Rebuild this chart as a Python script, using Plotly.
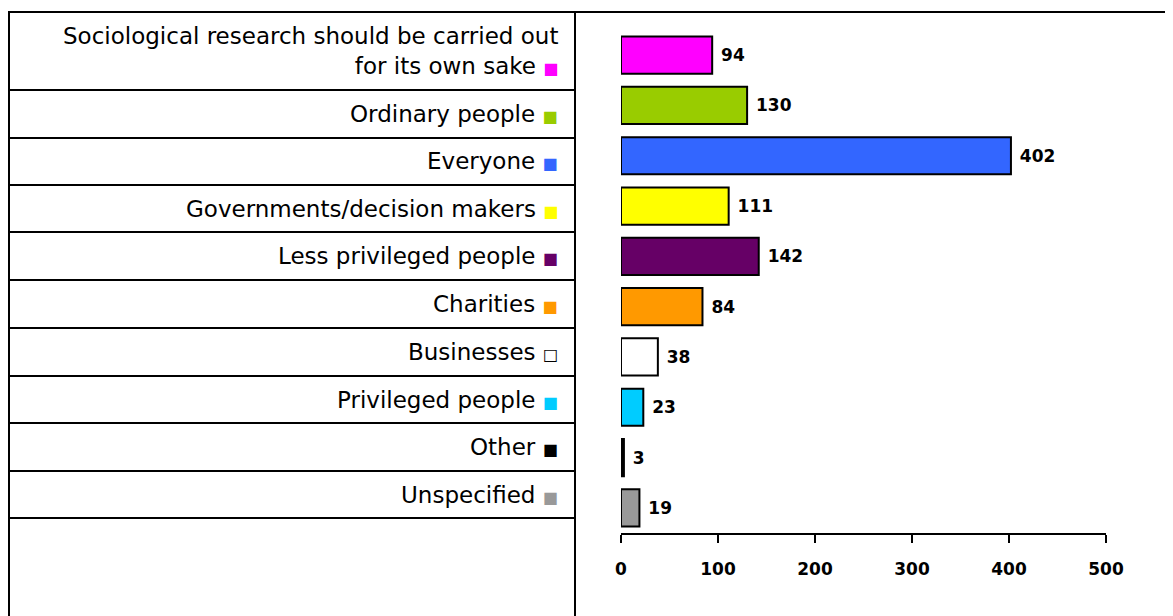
import plotly.graph_objects as go

categories = [
    "Sociological research should be carried out<br>for its own sake",
    "Ordinary people",
    "Everyone",
    "Governments/decision makers",
    "Less privileged people",
    "Charities",
    "Businesses",
    "Privileged people",
    "Other",
    "Unspecified",
]
values = [94, 130, 402, 111, 142, 84, 38, 23, 3, 19]
colors = ["#FF00FF", "#99CC00", "#3366FF", "#FFFF00", "#660066",
          "#FF9900", "#FFFFFF", "#00CCFF", "#000000", "#999999"]
markers = ["■", "■", "■", "■", "■", "■", "□", "■", "■", "■"]
marker_colors = ["#FF00FF", "#99CC00", "#3366FF", "#FFFF00", "#660066",
                 "#FF9900", "#000000", "#00CCFF", "#000000", "#999999"]
tick_vals = [0, 100, 200, 300, 400, 500]

# page offset (body margin) so positions below are in page pixels
OFF = 8
W, H = 1173 - OFF, 616 - OFF
ML, MR, MT, MB = 621 - OFF, 1173 - 1106, 30 - OFF, 616 - 533
PW, PH = W - ML - MR, H - MT - MB

def px_x(p):
    return (p - OFF - ML) / PW

def px_y(p):
    return (H - MB - (p - OFF)) / PH

LABEL_FONT = "DejaVu Sans, sans-serif"
NUM_FONT = dict(family="DejaVu Sans", size=17, color="#000000", weight="bold")

fig = go.Figure()
fig.add_trace(go.Bar(
    y=list(range(len(values))),
    x=values,
    orientation="h",
    marker=dict(color=colors, line=dict(color="#000000", width=2)),
    width=0.74,
    text=[" " + str(v) for v in values],
    textposition="outside",
    cliponaxis=False,
    textfont=NUM_FONT,
    hoverinfo="skip",
))

# left panel: table lines and labels
left, divider, top = 8, 575, 12
row_lines = [90, 138, 185, 232, 280, 328, 376, 423, 471, 518]
shapes = []
lw = 2
shapes.append(dict(type="line", xref="paper", yref="paper",
                   x0=px_x(left), x1=px_x(1180), y0=px_y(top), y1=px_y(top),
                   line=dict(color="black", width=lw)))
shapes.append(dict(type="line", xref="paper", yref="paper",
                   x0=px_x(left + 1), x1=px_x(left + 1), y0=px_y(top), y1=px_y(630),
                   line=dict(color="black", width=lw)))
shapes.append(dict(type="line", xref="paper", yref="paper",
                   x0=px_x(divider), x1=px_x(divider), y0=px_y(top), y1=px_y(630),
                   line=dict(color="black", width=lw)))
for yl in row_lines:
    shapes.append(dict(type="line", xref="paper", yref="paper",
                       x0=px_x(left), x1=px_x(divider), y0=px_y(yl), y1=px_y(yl),
                       line=dict(color="black", width=lw)))

annotations = []
bounds = [top] + row_lines
for i, cat in enumerate(categories):
    yc = (bounds[i] + bounds[i + 1]) / 2
    txt = f'{cat} <span style="color:{marker_colors[i]};font-size:16px">{markers[i]}</span>'
    annotations.append(dict(
        xref="paper", yref="paper", x=px_x(560), y=px_y(yc),
        xanchor="right", yanchor="middle", align="right",
        text=txt, showarrow=False,
        font=dict(family=LABEL_FONT, size=23, color="#000000"),
    ))

fig.update_layout(
    width=W, height=H,
    margin=dict(l=ML, r=MR, t=MT, b=MB),
    paper_bgcolor="white", plot_bgcolor="white",
    showlegend=False,
    shapes=shapes,
    annotations=annotations,
    xaxis=dict(range=[0, 500], tickvals=tick_vals, showgrid=False, zeroline=False,
               showline=True, linecolor="black", linewidth=2,
               ticks="outside", ticklen=8, tickwidth=2, tickcolor="black",
               tickfont=NUM_FONT, ticklabelstandoff=12, fixedrange=True),
    yaxis=dict(range=[9.5, -0.5], showgrid=False, zeroline=False, showline=False,
               showticklabels=False, ticks="", fixedrange=True),
)

fig.write_html("out.html")
